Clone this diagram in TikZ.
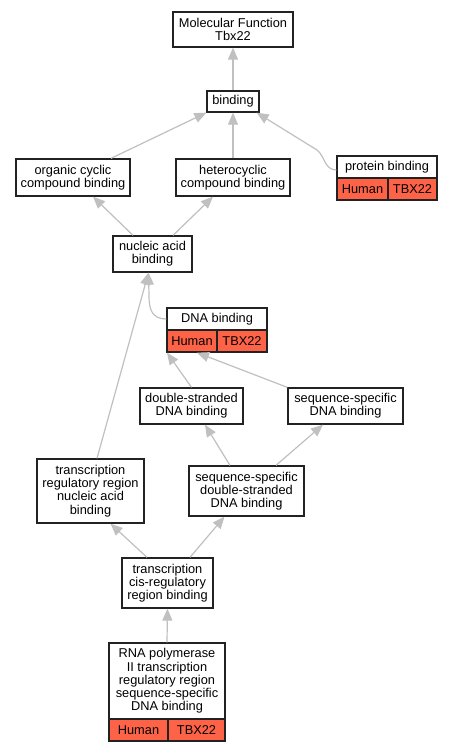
\documentclass[tikz,border=0pt]{standalone}
\usepackage{fontspec}
\setmainfont{Liberation Sans}
\usetikzlibrary{arrows.meta}
\definecolor{tomatofill}{HTML}{FF6347}
\definecolor{edgegray}{HTML}{C0C0C0}
\definecolor{boxline}{HTML}{222222}
\begin{document}
\begin{tikzpicture}[x=1pt,y=-1pt,
  box/.style={draw=boxline, line width=1.3pt, fill=white, inner sep=0pt, align=center,
              font=\fontsize{12.8}{13.3}\selectfont},
  sp/.style={box, fill=tomatofill},
  edge/.style={draw=edgegray, line width=1.2pt, -{Triangle[length=12pt,width=10pt]}},
]
\fill[white] (0,0) rectangle (452,752);
\useasboundingbox (0,0) rectangle (452,752);

% nodes
\node[box, minimum width=120pt, minimum height=35pt] (mf) at (233,29.5) {Molecular Function\\Tbx22};
\node[box, minimum width=52pt, minimum height=21pt] (bind) at (233,101.5) {binding};
\node[box, minimum width=114pt, minimum height=37pt] (org) at (73,177.5) {organic cyclic\\compound binding};
\node[box, minimum width=114pt, minimum height=37pt] (het) at (233,177.5) {heterocyclic\\compound binding};
\node[box, minimum width=100pt, minimum height=22pt] (prot) at (387,167) {protein binding};
\node[sp, minimum width=51pt, minimum height=22pt] (protH) at (362.5,189) {Human};
\node[sp, minimum width=49pt, minimum height=22pt] (protT) at (412.5,189) {TBX22};
\node[box, minimum width=79pt, minimum height=36pt] (nuc) at (152.5,254) {nucleic acid\\binding};
\node[box, minimum width=100pt, minimum height=22pt] (dna) at (217,319) {DNA binding};
\node[sp, minimum width=50pt, minimum height=22pt] (dnaH) at (192,341) {Human};
\node[sp, minimum width=50pt, minimum height=22pt] (dnaT) at (242,341) {TBX22};
\node[box, minimum width=103pt, minimum height=36pt] (ds) at (191.5,406) {double-stranded\\DNA binding};
\node[box, minimum width=115pt, minimum height=36pt] (ssd) at (345.5,406) {sequence-specific\\DNA binding};
\node[box, minimum width=107pt, minimum height=64pt] (trr) at (90.5,491) {transcription\\regulatory region\\nucleic acid\\binding};
\node[box, minimum width=115pt, minimum height=50pt] (ssds) at (246.5,491) {sequence-specific\\double-stranded\\DNA binding};
\node[box, minimum width=91pt, minimum height=50pt] (cis) at (167.5,583) {transcription\\cis-regulatory\\region binding};
\node[box, minimum width=116pt, minimum height=76pt] (rna) at (167,681) {RNA polymerase\\II transcription\\regulatory region\\sequence-specific\\DNA binding};
\node[sp, minimum width=59pt, minimum height=22pt] (rnaH) at (138.5,730) {Human};
\node[sp, minimum width=57pt, minimum height=22pt] (rnaT) at (196.5,730) {TBX22};

\coordinate (pb1) at (317,150);
\coordinate (db1) at (149,296);

% edges
\draw[edge] (bind.north) -- (mf.south);
\draw[edge] ([xshift=38pt]org.north) -- (bind.south west);
\draw[edge] (het.north) -- (bind.south);
\draw[edge] ([yshift=-3pt]prot.west) .. controls +(-12,0) and +(8,6) .. (pb1) -- ([xshift=-3pt]bind.south east);
\draw[edge] ([xshift=-19.5pt]nuc.north) -- ([xshift=20pt]org.south);
\draw[edge] ([xshift=20.5pt]nuc.north) -- ([xshift=-20pt]het.south);
\draw[edge] (dna.west) .. controls +(-14,0) and +(0,14) .. (db1) -- ([xshift=-4pt]nuc.south);
\draw[edge] ([xshift=6.5pt]trr.north) -- ([xshift=-4pt]nuc.south);
\draw[edge] (ds.north) -- ([xshift=-25pt]dnaH.south);
\draw[edge] (ssd.north west) -- ([xshift=5pt]dnaH.south);
\draw[edge] ([xshift=-16.5pt]ssds.north) -- ([xshift=13.5pt]ds.south);
\draw[edge] ([xshift=29.5pt]ssds.north) -- ([xshift=-22.5pt]ssd.south);
\draw[edge] ([xshift=-20.5pt]cis.north) -- ([xshift=20pt]trr.south);
\draw[edge] ([xshift=22.5pt]cis.north) -- ([xshift=-22pt]ssds.south);
\draw[edge] (rna.north) -- (cis.south);
\end{tikzpicture}
\end{document}
